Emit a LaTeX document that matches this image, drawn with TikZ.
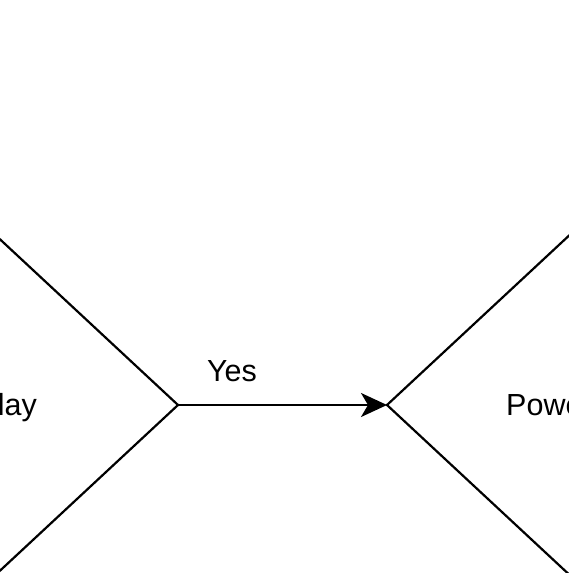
\documentclass[tikz,border=0pt]{standalone}
\usepackage{fontspec}
\setmainfont{Liberation Sans}
\usepackage{tikz}
\usetikzlibrary{shapes.geometric,arrows.meta}
\begin{document}
\begin{tikzpicture}[x=1pt,y=1pt]
\tikzstyle{decision} = [draw, diamond, line width=2.2pt, minimum width=520pt, minimum height=484pt, inner sep=0, outer sep=0];
\tikzstyle{flow} = [line width=2.2pt, -{Stealth[length=26pt,width=24pt,inset=7pt]}];
\tikzstyle{txt} = [font=\fontsize{30.5}{36}\selectfont, inner sep=0];
\useasboundingbox (0,0) rectangle (569,573);
\clip (0,0) rectangle (569,573);
\node [decision] (relay) at (-82,168) {};
\node [decision] (power) at (647,168) {};
\node [txt, anchor=base east] (relaytext) at (37,157) {lay};
\node [txt, anchor=base west] (powertext) at (506,157) {Powe};
\draw [flow] (relay.east) -- (power.west);
\node [txt] (yes) at (232,202) {Yes};
\end{tikzpicture}
\end{document}
